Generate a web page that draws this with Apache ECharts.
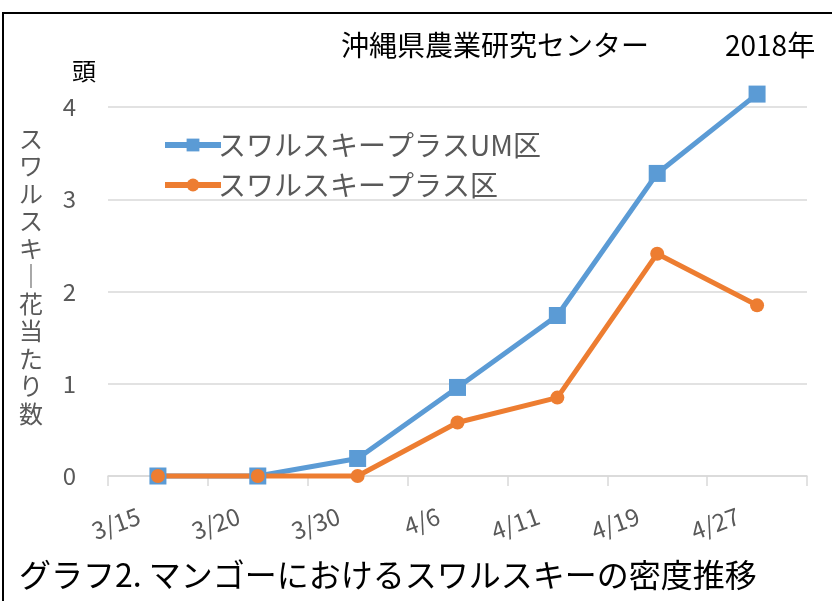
<!DOCTYPE html>
<html>
<head>
<meta charset="utf-8">
<script src="https://cdn.jsdelivr.net/npm/echarts@6/dist/echarts.min.js"></script>
<style>
  html, body { margin: 0; padding: 0; background: #fff; }
  #main { width: 832px; height: 601px; }
</style>
</head>
<body>
<div id="main"></div>
<script type="text/javascript">
var categories = ['3/15', '3/20', '3/30', '4/6', '4/11', '4/19', '4/27'];
var umValues = [0, 0, 0.19, 0.96, 1.74, 3.28, 4.14];
var plusValues = [0, 0, 0, 0.58, 0.85, 2.41, 1.85];
var yTicks = [0, 1, 2, 3, 4];
var seriesNames = ['スワルスキープラスUM区', 'スワルスキープラス区'];

var font = '"Noto Sans CJK JP", "Noto Sans", sans-serif';
var chart = echarts.init(document.getElementById('main'));

option = {
    backgroundColor: '#fff',
    animation: false,
    textStyle: { fontFamily: font },
    title: [{
        text: '沖縄県農業研究センター',
        left: 336, top: 26,
        textStyle: { fontSize: 28, fontWeight: 'normal', color: '#000', fontFamily: font }
    }, {
        text: '2018年',
        left: 720, top: 26,
        textStyle: { fontSize: 28, fontWeight: 'normal', color: '#000', fontFamily: font }
    }, {
        text: 'グラフ2. マンゴーにおけるスワルスキーの密度推移',
        left: 14, top: 554,
        textStyle: { fontSize: 32, fontWeight: 'normal', color: '#000', fontFamily: font }
    }, {
        text: 'ス\nワ\nル\nス\nキ\n｜\n花\n当\nた\nり\n数',
        left: 14, top: 120,
        textStyle: { fontSize: 24, fontWeight: 'normal', color: '#595959', lineHeight: 27.5, fontFamily: font }
    }],
    graphic: [{
        type: 'polyline',
        shape: { points: [[3, 601], [3, 13], [832, 13]] },
        style: { stroke: '#000', lineWidth: 2, fill: null }
    }],
    legend: {
        orient: 'vertical',
        left: 157, top: 126,
        itemWidth: 56, itemHeight: 16,
        itemGap: 12,
        lineStyle: { width: 6 },
        textStyle: { fontSize: 28, color: '#595959', fontFamily: font, padding: [0, 0, 0, -8] },
        data: seriesNames
    },
    grid: { left: 108, right: 25, top: 107, bottom: 125 },
    xAxis: {
        type: 'category',
        data: categories,
        boundaryGap: true,
        axisLine: { lineStyle: { color: '#d9d9d9', width: 1.5 } },
        axisTick: { show: true, length: 10, lineStyle: { color: '#d9d9d9', width: 1.5 } },
        axisLabel: { rotate: 20, margin: 32, padding: [0, 20, 0, 0], fontSize: 24, color: '#595959', fontFamily: font }
    },
    yAxis: {
        type: 'value',
        min: yTicks[0], max: yTicks[yTicks.length - 1], interval: 1,
        name: '頭',
        nameLocation: 'end',
        nameGap: 24,
        nameTextStyle: { fontSize: 24, color: '#000', align: 'right', padding: [0, 12, 0, 0] },
        axisLine: { show: false },
        axisTick: { show: false },
        axisLabel: { margin: 32, fontSize: 24, color: '#595959', fontFamily: font },
        splitLine: { lineStyle: { color: '#d9d9d9', width: 1.5 } }
    },
    series: [{
        name: seriesNames[0],
        type: 'line',
        data: umValues,
        clip: false,
        symbol: 'rect',
        symbolSize: 17,
        itemStyle: { color: '#5b9bd5' },
        lineStyle: { width: 5, color: '#5b9bd5' }
    }, {
        name: seriesNames[1],
        type: 'line',
        data: plusValues,
        clip: false,
        symbol: 'circle',
        symbolSize: 14,
        itemStyle: { color: '#ed7d31' },
        lineStyle: { width: 5, color: '#ed7d31' }
    }]
};
chart.setOption(option);
</script>
</body>
</html>
